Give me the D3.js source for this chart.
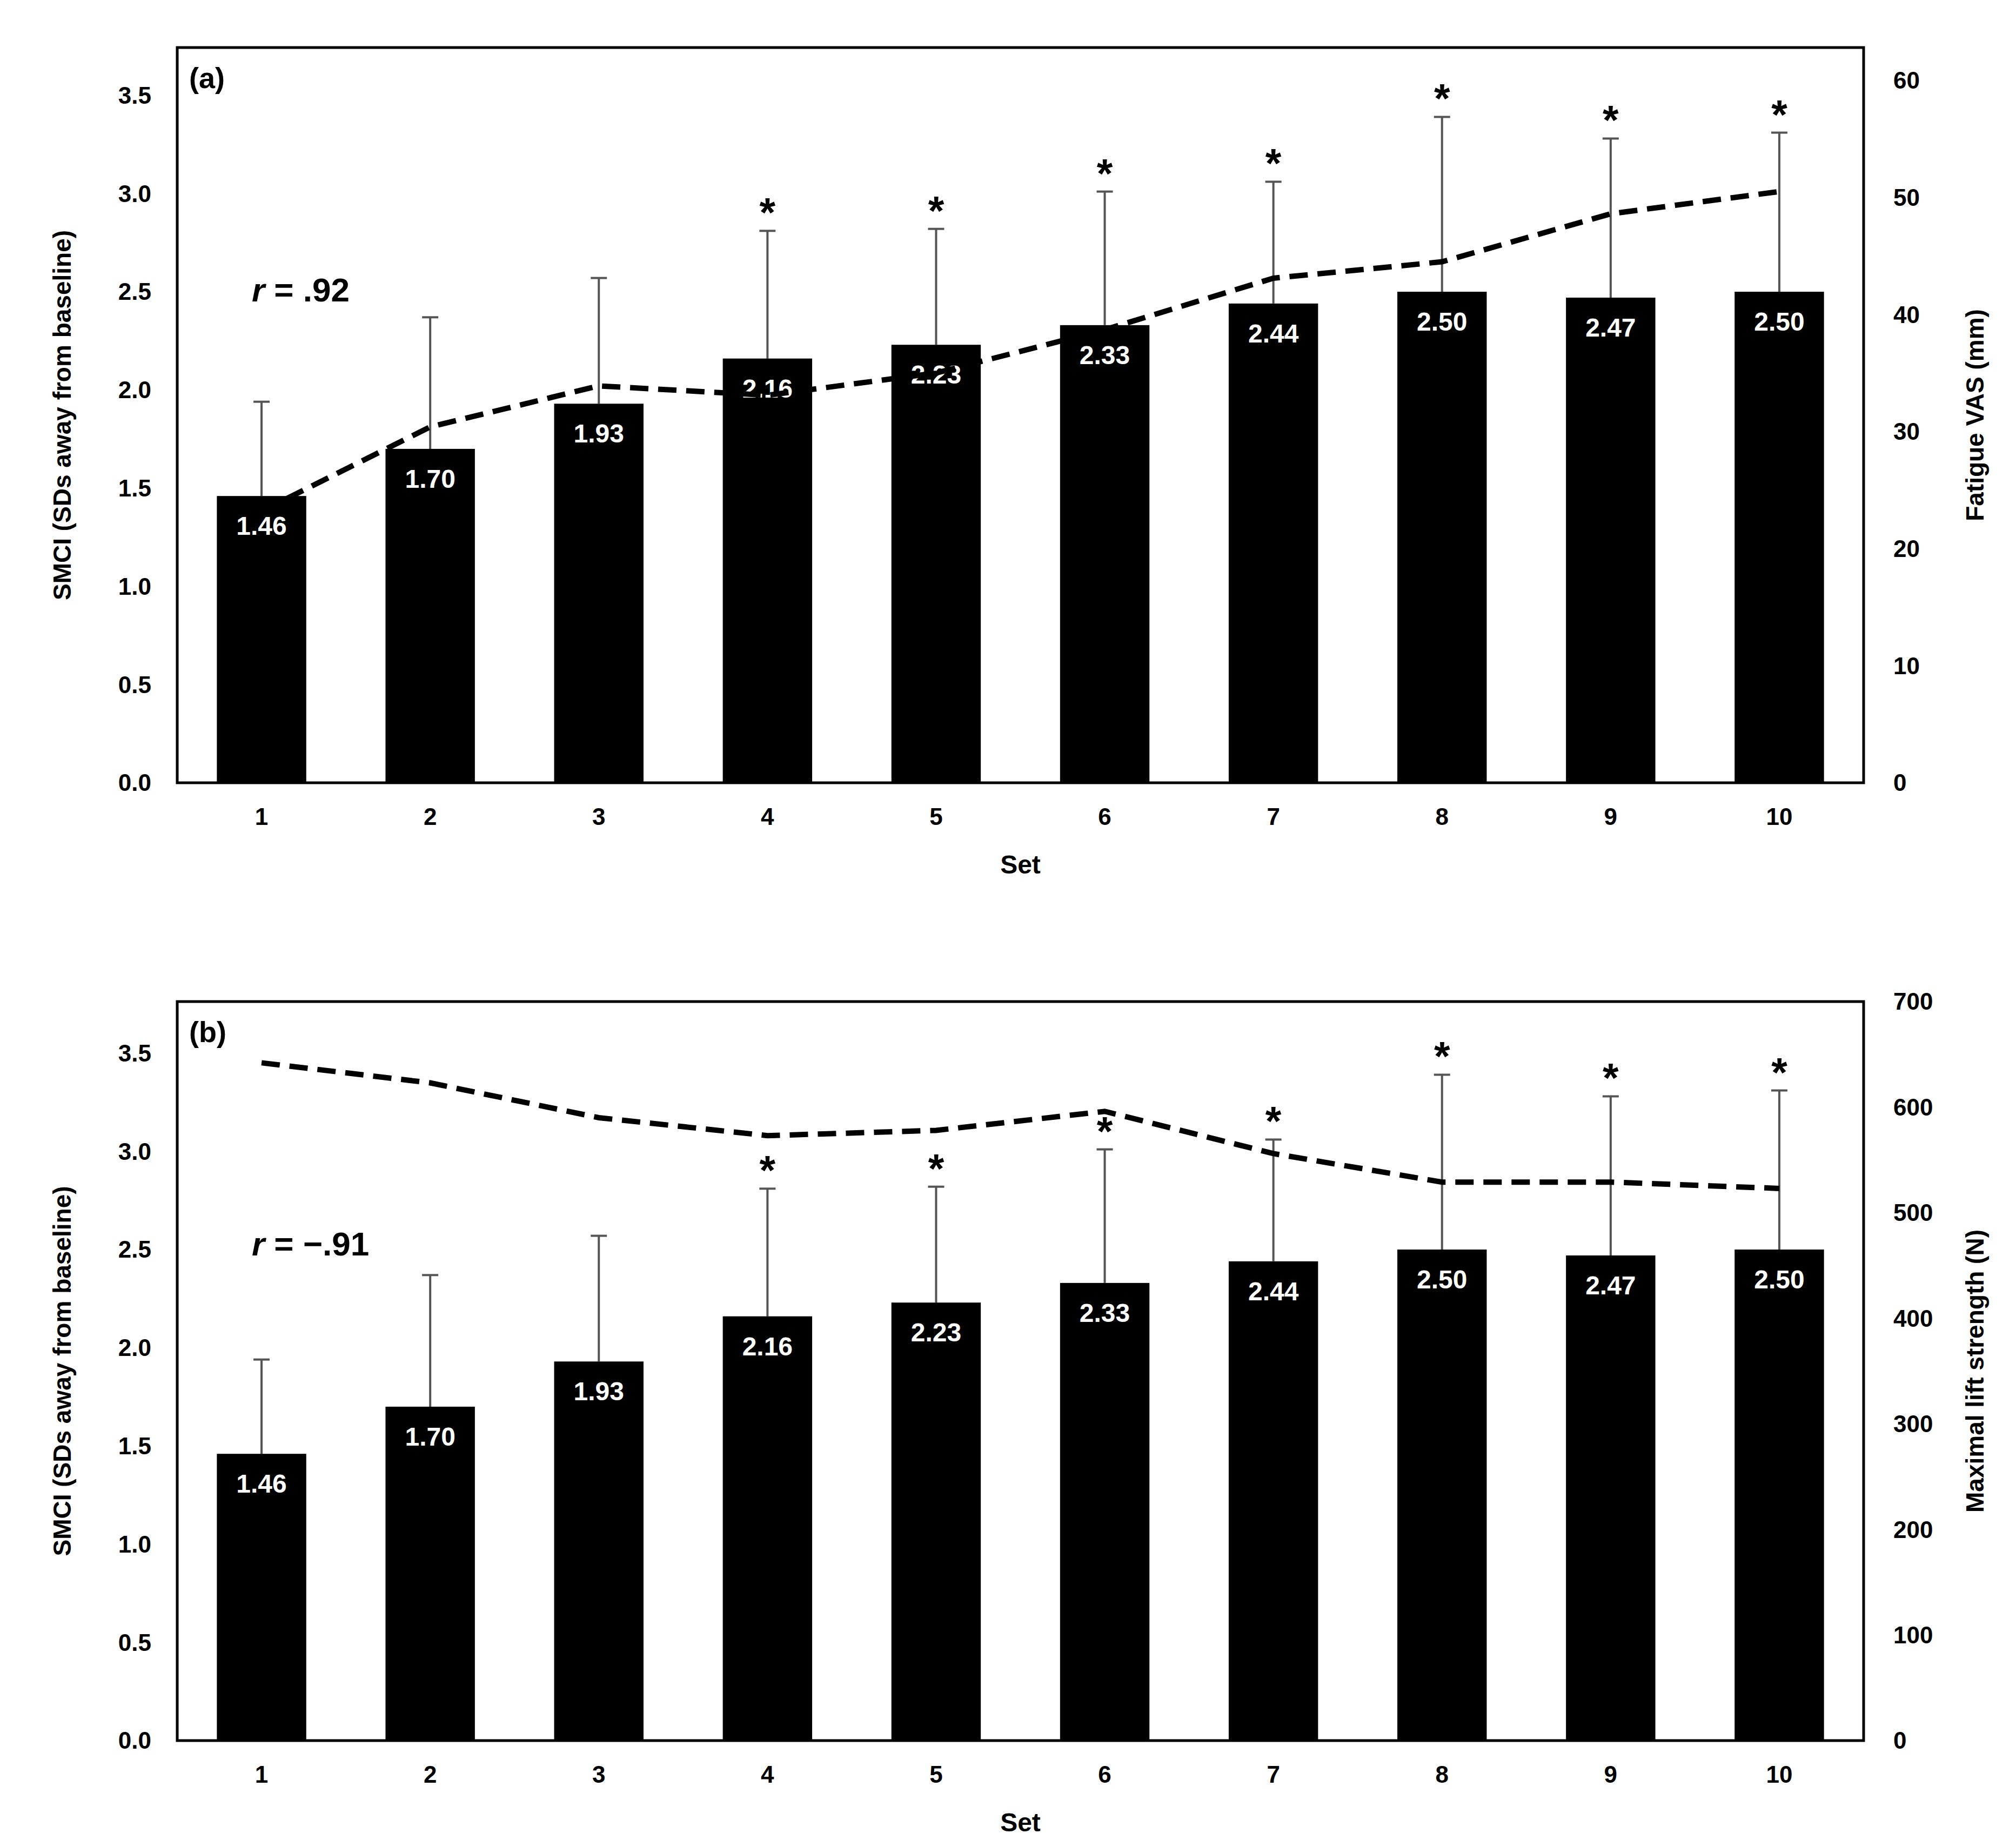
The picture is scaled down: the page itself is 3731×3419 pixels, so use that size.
<!DOCTYPE html>
<html><head><meta charset="utf-8">
<script src="https://cdn.jsdelivr.net/npm/d3@7"></script>
<style>body{margin:0;background:#fff}text{font-family:"Liberation Sans",Arial,sans-serif;font-weight:bold}</style>
</head><body><svg id="chart" width="3731" height="3419"></svg>
<script>
const sets = [1,2,3,4,5,6,7,8,9,10];
const smci = [1.46,1.70,1.93,2.16,2.23,2.33,2.44,2.50,2.47,2.50];
const smciErrTop = [1.94,2.37,2.57,2.81,2.82,3.01,3.06,3.39,3.28,3.31];
const significant = [false,false,false,true,true,true,true,true,true,true];
const fatigueVAS = [23.2,30.4,33.9,33.1,35.0,38.7,43.1,44.5,48.6,50.5];
const liftStrength = [642,623,590,573,578,596,556,529,529,523];
const leftTicks = [0,0.5,1,1.5,2,2.5,3,3.5];
const vasTicks = [0,10,20,30,40,50,60];
const strengthTicks = [0,100,200,300,400,500,600,700];

const svg = d3.select("#chart");
const L = 328, R = 3449;

function panel(top, bottom, tag, rText, rightVals, rightDomain, rightTicks, rightTitle) {
  const g = svg.append("g");
  const x = d3.scaleBand().domain(sets).range([L, R]).paddingInner(0.47).paddingOuter(0.235);
  const y = d3.scaleLinear().domain([0, 3.5 * (bottom - top) / (bottom - top - 0.066 * (bottom - top))]).range([bottom, top]);
  const y0 = d3.scaleLinear().domain([0, 3.5]).range([bottom, bottom - 532 * 2.392]);
  const yr = d3.scaleLinear().domain(rightDomain).range([bottom, top]);
  const cx = d => x(d) + x.bandwidth() / 2;

  // error bars
  g.selectAll(".err").data(sets).join("g").each(function(d, i) {
    const s = d3.select(this);
    s.append("line").attr("x1", cx(d)).attr("x2", cx(d)).attr("y1", y0(smci[i])).attr("y2", y0(smciErrTop[i]))
      .attr("stroke", "#555").attr("stroke-width", 4);
    s.append("line").attr("x1", cx(d) - 15).attr("x2", cx(d) + 15).attr("y1", y0(smciErrTop[i])).attr("y2", y0(smciErrTop[i]))
      .attr("stroke", "#555").attr("stroke-width", 4);
  });
  g.selectAll(".bar").data(sets).join("rect")
    .attr("x", d => x(d)).attr("width", x.bandwidth())
    .attr("y", (d, i) => y0(smci[i])).attr("height", (d, i) => bottom - y0(smci[i])).attr("fill", "#000");
  g.selectAll(".val").data(sets).join("text")
    .attr("x", cx).attr("y", (d, i) => y0(smci[i]) + 72).attr("text-anchor", "middle")
    .attr("fill", "#fff").attr("font-size", 48).text((d, i) => smci[i].toFixed(2));
  g.selectAll(".star").data(sets.filter((d, i) => significant[i])).join("text")
    .attr("x", cx).attr("y", d => y0(smciErrTop[d - 1]) - 8).attr("text-anchor", "middle")
    .attr("font-size", 76).text("*");

  const line = d3.line().x((d, i) => cx(sets[i])).y(d => yr(d));
  g.append("path").datum(rightVals).attr("d", line).attr("fill", "none")
    .attr("stroke", "#000").attr("stroke-width", 10).attr("stroke-dasharray", "34,18");

  g.append("rect").attr("x", L).attr("y", top).attr("width", R - L).attr("height", bottom - top)
    .attr("fill", "none").attr("stroke", "#000").attr("stroke-width", 5);

  // axes (labels only, no tick marks)
  g.selectAll(".lt").data(leftTicks).join("text").attr("x", 280).attr("y", d => y0(d))
    .attr("dy", "0.35em").attr("text-anchor", "end").attr("font-size", 44).text(d => d.toFixed(1));
  g.selectAll(".rt").data(rightTicks).join("text").attr("x", 3504).attr("y", d => yr(d))
    .attr("dy", "0.35em").attr("font-size", 44).text(d => d);
  g.selectAll(".xt").data(sets).join("text").attr("x", cx).attr("y", bottom + 63)
    .attr("dy", "0.35em").attr("text-anchor", "middle").attr("font-size", 44).text(d => d);
  g.append("text").attr("x", (L + R) / 2).attr("y", bottom + 151).attr("dy", "0.35em")
    .attr("text-anchor", "middle").attr("font-size", 48).text("Set");
  const mid = (top + bottom) / 2;
  g.append("text").attr("transform", `translate(115,${mid}) rotate(-90)`).attr("dy", "0.35em")
    .attr("text-anchor", "middle").attr("font-size", 46).text("SMCI (SDs away from baseline)");
  g.append("text").attr("transform", `translate(3655,${mid}) rotate(-90)`).attr("dy", "0.35em")
    .attr("text-anchor", "middle").attr("font-size", 46).text(rightTitle);

  g.append("text").attr("x", 350).attr("y", top + 75).attr("font-size", 54).text(tag);
  const rt = g.append("text").attr("x", 466).attr("y", top + 470).attr("font-size", 62);
  rt.append("tspan").attr("font-style", "italic").text("r");
  rt.append("tspan").text(rText);
}

panel(88, 1449, "(a)", " = .92", fatigueVAS, [0, 62.8], vasTicks, "Fatigue VAS (mm)");
panel(1854, 3222, "(b)", " = \u2212.91", liftStrength, [0, 700], strengthTicks, "Maximal lift strength (N)");
</script></body></html>
